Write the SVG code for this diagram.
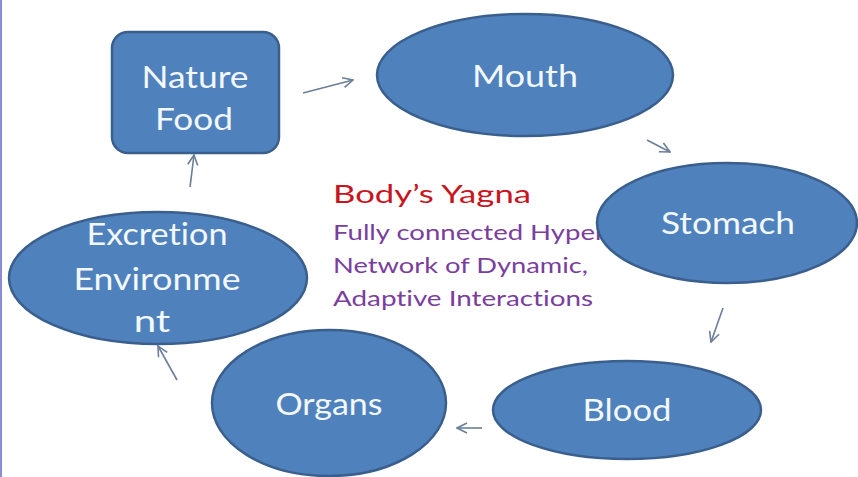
<svg xmlns="http://www.w3.org/2000/svg" width="858" height="477" viewBox="0 0 858 477">
<defs>
<style>
text{font-variant-ligatures:none;font-feature-settings:"liga" 0,"dlig" 0}
.node{fill:#4f81bd;stroke:#3a5f8c;stroke-width:2.5}
.lbl{font-family:Lato,"Open Sans","Liberation Sans",sans-serif;font-size:31px;fill:#f2f8fc;text-anchor:middle}
.conn{stroke:#6b7f99;stroke-width:1.6;fill:none;marker-end:url(#ah)}
.title{font-family:Lato,"Open Sans","Liberation Sans",sans-serif;font-size:25px;fill:#c8141c}
.sub{font-family:Lato,"Open Sans","Liberation Sans",sans-serif;font-size:21px;fill:#7a3e9d}
</style>
<marker id="ah" viewBox="0 0 12 12" refX="11" refY="6" markerWidth="12" markerHeight="12" markerUnits="userSpaceOnUse" orient="auto">
<path d="M1,1 L11,6 L1,11" fill="none" stroke="#6b7f99" stroke-width="1.6"/>
</marker>
</defs>
<rect x="0" y="0" width="858" height="477" fill="#ffffff"/>
<rect x="0" y="0" width="2" height="477" fill="#8c8cd4"/>

<g id="caption">
<text class="title" x="333" y="203" textLength="198" lengthAdjust="spacingAndGlyphs">Body’s Yagna</text>
<text class="sub" x="333" y="240" textLength="272" lengthAdjust="spacingAndGlyphs">Fully connected Hyper</text>
<text class="sub" x="333" y="273" textLength="255" lengthAdjust="spacingAndGlyphs">Network of Dynamic,</text>
<text class="sub" x="333" y="306" textLength="260" lengthAdjust="spacingAndGlyphs">Adaptive Interactions</text>
</g>

<g id="connectors">
<line class="conn" x1="303" y1="93" x2="353" y2="80"/>
<line class="conn" x1="647" y1="140" x2="670" y2="152"/>
<line class="conn" x1="723" y1="308" x2="711" y2="342"/>
<line class="conn" x1="482" y1="428" x2="457" y2="428"/>
<line class="conn" x1="177" y1="380" x2="158" y2="346"/>
<line class="conn" x1="190" y1="187" x2="194" y2="155"/>
</g>

<g id="nature-food">
<rect class="node" x="112" y="32" width="167" height="121" rx="16"/>
<text class="lbl" x="195" y="88" textLength="107" lengthAdjust="spacingAndGlyphs">Nature</text>
<text class="lbl" x="194" y="130" textLength="78" lengthAdjust="spacingAndGlyphs">Food</text>
</g>

<g id="mouth">
<ellipse class="node" cx="525" cy="75" rx="148" ry="61"/>
<text class="lbl" x="525" y="87" textLength="106" lengthAdjust="spacingAndGlyphs">Mouth</text>
</g>

<g id="stomach">
<ellipse class="node" cx="727" cy="223" rx="130" ry="60"/>
<text class="lbl" x="728" y="234" textLength="134" lengthAdjust="spacingAndGlyphs">Stomach</text>
</g>

<g id="blood">
<ellipse class="node" cx="627" cy="410" rx="134" ry="49"/>
<text class="lbl" x="627" y="421" textLength="89" lengthAdjust="spacingAndGlyphs">Blood</text>
</g>

<g id="organs">
<ellipse class="node" cx="329" cy="403" rx="117" ry="73"/>
<text class="lbl" x="329" y="415" textLength="107" lengthAdjust="spacingAndGlyphs">Organs</text>
</g>

<g id="excretion">
<ellipse class="node" cx="158" cy="278" rx="149" ry="66"/>
<text class="lbl" x="157" y="245" textLength="141" lengthAdjust="spacingAndGlyphs">Excretion</text>
<text class="lbl" x="157" y="290" textLength="167" lengthAdjust="spacingAndGlyphs">Environme</text>
<text class="lbl" x="152" y="332" transform="translate(152 0) scale(1.3 1) translate(-152 0)">nt</text>
</g>
</svg>
